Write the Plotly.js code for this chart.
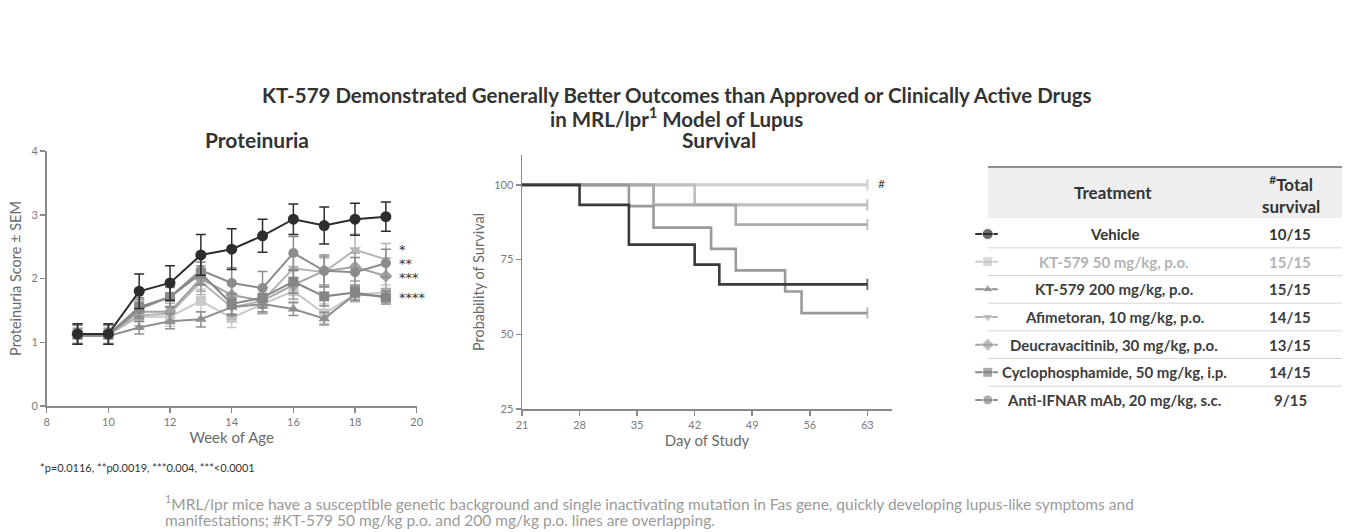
<!DOCTYPE html>
<html>
<head>
<meta charset="utf-8">
<script src="https://cdn.plot.ly/plotly-3.0.1.min.js"></script>
<style>html,body{margin:0;padding:0;background:#fff;}#chart{width:1353px;height:532px;}</style>
</head>
<body>
<div id="chart"></div>
<script>
// ---------- Data ----------
const weeks = [9, 10, 11, 12, 13, 14, 15, 16, 17, 18, 19];

const treatments = [
  "Vehicle",
  "KT-579 50 mg/kg, p.o.",
  "KT-579 200 mg/kg, p.o.",
  "Afimetoran, 10 mg/kg, p.o.",
  "Deucravacitinib, 30 mg/kg, p.o.",
  "Cyclophosphamide, 50 mg/kg, i.p.",
  "Anti-IFNAR mAb, 20 mg/kg, s.c."
];
const totalSurvival = ["10/15", "15/15", "15/15", "14/15", "13/15", "14/15", "9/15"];

// Proteinuria mean scores
const protVehicle   = [1.13, 1.13, 1.80, 1.93, 2.37, 2.46, 2.67, 2.93, 2.83, 2.93, 2.97];
const protKT50      = [1.12, 1.12, 1.40, 1.40, 1.65, 1.38, 1.60, 1.80, 1.45, 1.75, 1.78];
const protKT200     = [1.10, 1.10, 1.23, 1.33, 1.36, 1.55, 1.60, 1.52, 1.37, 1.75, 1.72];
const protAfim      = [1.12, 1.12, 1.42, 1.45, 1.95, 1.55, 1.65, 2.16, 2.10, 2.45, 2.30];
const protDeucra    = [1.12, 1.12, 1.48, 1.48, 2.00, 1.74, 1.65, 1.90, 2.12, 2.18, 2.04];
const protCyclo     = [1.12, 1.12, 1.55, 1.71, 2.08, 1.60, 1.70, 1.95, 1.72, 1.78, 1.70];
const protAnti      = [1.13, 1.12, 1.52, 1.71, 2.13, 1.93, 1.85, 2.40, 2.12, 2.10, 2.24];

// Proteinuria SEM
const semVehicle = [0.16, 0.16, 0.27, 0.27, 0.32, 0.32, 0.26, 0.24, 0.29, 0.25, 0.23];
const semKT50    = [0.15, 0.15, 0.14, 0.15, 0.18, 0.15, 0.14, 0.16, 0.15, 0.12, 0.12];
const semKT200   = [0.12, 0.12, 0.10, 0.12, 0.12, 0.14, 0.12, 0.10, 0.10, 0.10, 0.08];
const semAfim    = [0.15, 0.15, 0.16, 0.16, 0.20, 0.18, 0.20, 0.22, 0.22, 0.25, 0.25];
const semDeucra  = [0.15, 0.15, 0.16, 0.17, 0.20, 0.20, 0.20, 0.22, 0.22, 0.22, 0.20];
const semCyclo   = [0.15, 0.15, 0.15, 0.15, 0.18, 0.16, 0.16, 0.18, 0.15, 0.12, 0.10];
const semAnti    = [0.15, 0.15, 0.15, 0.16, 0.22, 0.24, 0.26, 0.26, 0.25, 0.23, 0.22];

// Survival (Kaplan-Meier steps): day, % survival
const survDaysVehicle = [21, 28, 34, 42, 45, 63];
const survVehicle     = [100, 93.3, 80.0, 73.3, 66.7, 66.7];
const survDaysKT50    = [21, 63];
const survKT50        = [100, 100];
const survDaysKT200   = [21, 63];
const survKT200       = [100, 100];
const survDaysAfim    = [21, 42, 63];
const survAfim        = [100, 93.3, 93.3];
const survDaysDeucra  = [21, 37, 47, 63];
const survDeucra      = [100, 93.3, 86.7, 86.7];
const survDaysCyclo   = [21, 37, 63];
const survCyclo       = [100, 93.3, 93.3];
const survDaysAnti    = [21, 34, 37, 44, 47, 53, 55, 63];
const survAnti        = [100, 92.9, 85.7, 78.6, 71.4, 64.3, 57.1, 57.1];

const sigLabels = ["*", "**", "***", "****"];
const sigY      = [2.45, 2.23, 2.02, 1.70];

const protTicksX = [8, 10, 12, 14, 16, 18, 20];
const protTicksY = [0, 1, 2, 3, 4];
const survTicksX = [21, 28, 35, 42, 49, 56, 63];
const survTicksY = [25, 50, 75, 100];

// ---------- Styles ----------
const FONT = "Lato, 'Open Sans', sans-serif";
const styles = [
  {color: "#2d2d2d", symbol: "circle",        size: 11, survColor: "#3a3a3a", textColor: "#333333"},
  {color: "#c9c9c9", symbol: "square",        size: 10, survColor: "#cfcfcf", textColor: "#b3b3b3"},
  {color: "#8f8f8f", symbol: "triangle-up",   size: 10, survColor: "#cfcfcf", textColor: "#3d3d3d"},
  {color: "#b4b4b4", symbol: "triangle-down", size: 10, survColor: "#bdbdbd", textColor: "#3d3d3d"},
  {color: "#a2a2a2", symbol: "diamond",       size: 10, survColor: "#ababab", textColor: "#3d3d3d"},
  {color: "#858585", symbol: "square",        size: 10, survColor: "#bdbdbd", textColor: "#3d3d3d"},
  {color: "#8c8c8c", symbol: "circle",        size: 10, survColor: "#9a9a9a", textColor: "#3d3d3d"}
];

const protSeries = [protVehicle, protKT50, protKT200, protAfim, protDeucra, protCyclo, protAnti];
const semSeries  = [semVehicle, semKT50, semKT200, semAfim, semDeucra, semCyclo, semAnti];
const survDaySeries = [survDaysVehicle, survDaysKT50, survDaysKT200, survDaysAfim, survDaysDeucra, survDaysCyclo, survDaysAnti];
const survSeries    = [survVehicle, survKT50, survKT200, survAfim, survDeucra, survCyclo, survAnti];

const traces = [];
// Proteinuria: draw light series first, vehicle last
const protOrder = [1, 3, 4, 2, 5, 6, 0];
protOrder.forEach(i => {
  const s = styles[i];
  traces.push({
    type: "scatter", mode: "lines+markers", xaxis: "x", yaxis: "y",
    x: weeks, y: protSeries[i], name: treatments[i], showlegend: false,
    line: {color: s.color, width: 2},
    marker: {color: s.color, symbol: s.symbol, size: s.size},
    error_y: {type: "data", array: semSeries[i], visible: true, color: s.color, thickness: 1.5, width: 5},
    cliponaxis: false
  });
});

// Survival
const survOrder = [1, 2, 3, 5, 4, 6, 0];
survOrder.forEach(i => {
  const s = styles[i];
  const n = survDaySeries[i].length;
  traces.push({
    type: "scatter", mode: "lines+markers", xaxis: "x2", yaxis: "y2",
    x: survDaySeries[i], y: survSeries[i], name: treatments[i], showlegend: false,
    line: {color: s.survColor, width: 2.6, shape: "hv"},
    marker: {symbol: "line-ns-open", size: survDaySeries[i].map((d, k) => k === n - 1 ? 8 : 0),
             line: {color: s.survColor, width: 2}, color: s.survColor},
    cliponaxis: false
  });
});

// Legend table symbols
treatments.forEach((t, i) => {
  const s = styles[i];
  traces.push({
    type: "scatter", mode: "lines+markers", xaxis: "x3", yaxis: "y3",
    x: [0.05, 0.55, 0.95], y: [t, t, t], showlegend: false, hoverinfo: "skip",
    line: {color: s.color, width: 2},
    marker: {color: s.color, symbol: s.symbol, size: [0, s.size, 0]}
  });
});

// ---------- Layout ----------
const W = 1353, H = 532;
const px = v => v / W;
const py = v => 1 - v / H;

const axisCommon = {
  showgrid: false, zeroline: false, showline: true, linecolor: "#8a8a8a", linewidth: 1.5,
  ticks: "outside", ticklen: 5, tickwidth: 1.5, tickcolor: "#8a8a8a",
  tickfont: {family: FONT, size: 11, color: "#7a7a7a"}
};

const annotations = [];
// main title (two lines)
annotations.push({text: "<b>KT-579 Demonstrated Generally Better Outcomes than Approved or Clinically Active Drugs</b>",
  xref: "paper", yref: "paper", x: 0.5, y: py(95), showarrow: false, xanchor: "center", yanchor: "middle",
  font: {family: FONT, size: 20.5, color: "#333"}});
annotations.push({text: "<b>in MRL/lpr<sup>1</sup> Model of Lupus</b>",
  xref: "paper", yref: "paper", x: 0.5, y: py(118), showarrow: false, xanchor: "center", yanchor: "middle",
  font: {family: FONT, size: 20.5, color: "#333"}});
// subplot titles
annotations.push({text: "<b>Proteinuria</b>", xref: "paper", yref: "paper", x: px(257), y: py(140),
  showarrow: false, font: {family: FONT, size: 21, color: "#333"}, xanchor: "center", yanchor: "middle"});
annotations.push({text: "<b>Survival</b>", xref: "paper", yref: "paper", x: px(719), y: py(140),
  showarrow: false, font: {family: FONT, size: 21, color: "#333"}, xanchor: "center", yanchor: "middle"});
// significance stars
sigLabels.forEach((lab, k) => {
  annotations.push({text: lab, xref: "x", yref: "y", x: 19.35, y: sigY[k], showarrow: false,
    xanchor: "left", yanchor: "middle", font: {family: "DejaVu Sans, sans-serif", size: 13, color: "#333"}});
});
// # marker on survival
annotations.push({text: "#", xref: "x2", yref: "y2", x: 64.0, y: 100.5, showarrow: false,
  xanchor: "left", yanchor: "middle", font: {family: FONT, size: 12, color: "#444"}});
// Table header
annotations.push({text: "<b>Treatment</b>", xref: "paper", yref: "paper", x: px(1113), y: py(193),
  showarrow: false, xanchor: "center", yanchor: "middle", font: {family: FONT, size: 17, color: "#333"}});
annotations.push({text: "<b><sup>#</sup>Total<br>survival</b>", xref: "paper", yref: "paper", x: px(1291), y: py(194),
  showarrow: false, xanchor: "center", yanchor: "middle", font: {family: FONT, size: 17, color: "#333"}});
treatments.forEach((t, i) => {
  annotations.push({text: "<b>" + t + "</b>", xref: "paper", yref: "y3", x: px(1114), y: i,
    showarrow: false, xanchor: "center", yanchor: "middle", font: {family: FONT, size: 15, color: styles[i].textColor}});
  annotations.push({text: "<b>" + totalSurvival[i] + "</b>", xref: "paper", yref: "y3", x: px(1290), y: i,
    showarrow: false, xanchor: "center", yanchor: "middle", font: {family: FONT, size: 15, color: styles[i].textColor}});
});
// footnotes
annotations.push({text: "*p=0.0116, **p0.0019, ***0.004, ***<0.0001", xref: "paper", yref: "paper",
  x: px(38), y: py(467), showarrow: false, xanchor: "left", yanchor: "middle",
  font: {family: FONT, size: 11, color: "#333"}});
annotations.push({text: "<sup>1</sup>MRL/lpr mice have a susceptible genetic background and single inactivating mutation in Fas gene, quickly developing lupus-like symptoms and",
  xref: "paper", yref: "paper", x: px(163), y: py(502), showarrow: false, xanchor: "left", yanchor: "middle", align: "left",
  font: {family: FONT, size: 15.5, color: "#9a9a9a"}});
annotations.push({text: "manifestations; #KT-579 50 mg/kg p.o. and 200 mg/kg p.o. lines are overlapping.",
  xref: "paper", yref: "paper", x: px(163), y: py(520), showarrow: false, xanchor: "left", yanchor: "middle", align: "left",
  font: {family: FONT, size: 15.5, color: "#9a9a9a"}});

const shapes = [];
// header band
shapes.push({type: "rect", xref: "paper", yref: "paper", x0: px(988), x1: px(1342), y0: py(167), y1: py(218),
  fillcolor: "#eeeeee", line: {width: 0}, layer: "below"});
shapes.push({type: "line", xref: "paper", yref: "paper", x0: px(988), x1: px(1342), y0: py(167), y1: py(167),
  line: {color: "#8f8f8f", width: 2}});
for (let i = 0; i < treatments.length - 1; i++) {
  shapes.push({type: "line", xref: "paper", yref: "y3", x0: px(988), x1: px(1342), y0: i + 0.5, y1: i + 0.5,
    line: {color: "#d6d6d6", width: 1}});
}

const layout = {
  width: W, height: H,
  margin: {l: 0, r: 0, t: 0, b: 0},
  paper_bgcolor: "#ffffff", plot_bgcolor: "rgba(0,0,0,0)",
  showlegend: false,
  xaxis: Object.assign({}, axisCommon, {domain: [px(46.7), px(416.7)], range: [8, 20], tickvals: protTicksX,
    title: {text: "Week of Age", font: {family: FONT, size: 15, color: "#6a6a6a"}, standoff: 4}, anchor: "y"}),
  yaxis: Object.assign({}, axisCommon, {domain: [1 - 406 / H, 1 - 151 / H], range: [0, 4], tickvals: protTicksY,
    title: {text: "Proteinuria Score ± SEM", font: {family: FONT, size: 14.5, color: "#6a6a6a"}, standoff: 6}, anchor: "x"}),
  xaxis2: Object.assign({}, axisCommon, {domain: [px(522), px(892)], range: [21, 66], tickvals: survTicksX,
    title: {text: "Day of Study", font: {family: FONT, size: 15, color: "#6a6a6a"}, standoff: 4}, anchor: "y2"}),
  yaxis2: Object.assign({}, axisCommon, {domain: [1 - 409 / H, 1 - 155 / H], range: [25, 110], tickvals: survTicksY,
    title: {text: "Probability of Survival", font: {family: FONT, size: 14.5, color: "#6a6a6a"}, standoff: 6}, anchor: "x2"}),
  xaxis3: {domain: [px(974), px(999)], range: [0, 1], visible: false, anchor: "y3", fixedrange: true},
  yaxis3: {domain: [1 - 413.8 / H, 1 - 220.2 / H], type: "category", categoryarray: treatments,
    range: [6.5, -0.5], visible: false, anchor: "x3", fixedrange: true},
  annotations: annotations,
  shapes: shapes
};

Plotly.newPlot("chart", traces, layout, {displayModeBar: false, staticPlot: true});
</script>
</body>
</html>
